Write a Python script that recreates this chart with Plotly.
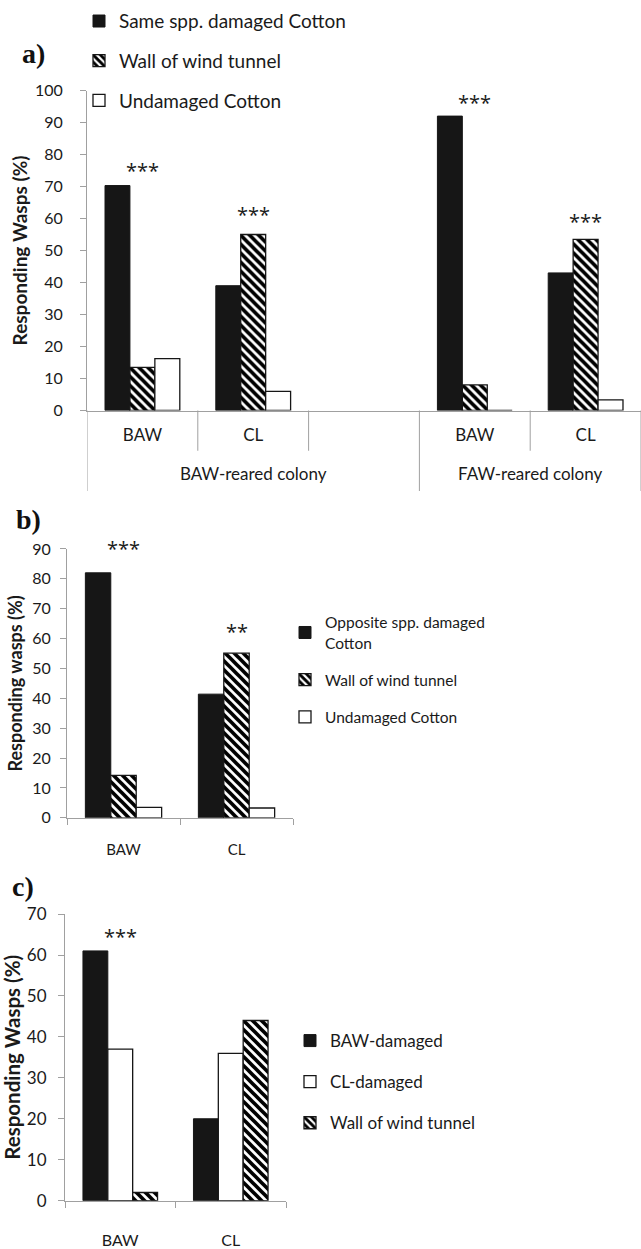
import math
import plotly.graph_objects as go

W, H = 641, 1249

# ---------------- data ----------------
# panel a
a_categories = ["BAW", "CL", "", "BAW", "CL"]
a_groups = ["BAW-reared colony", "FAW-reared colony"]
a_group_members = [[0, 1, 2], [3, 4]]
a_same = [70.3, 39.0, None, 92.0, 43.0]
a_wall = [13.5, 55.0, None, 8.0, 53.5]
a_undamaged = [16.2, 6.0, None, 0.0, 3.3]
a_star_text = ["***", "***", "***", "***"]
a_star_idx = [0, 1, 3, 4]
a_star_y = [75.0, 61.2, 96.4, 59.0]

# panel b
b_categories = ["BAW", "CL"]
b_opposite = [82.0, 41.4]
b_wall = [14.2, 55.1]
b_undamaged = [3.5, 3.3]
b_star_text = ["***", "**"]
b_star_idx = [0, 1]
b_star_y = [90.0, 62.3]

# panel c
c_categories = ["BAW", "CL"]
c_baw = [61.0, 20.0]
c_cl = [37.0, 36.0]
c_wall = [2.0, 44.0]
c_star_text = ["***"]
c_star_idx = [0]
c_star_y = [64.6]

# ---------------- styles ----------------
FONT = "Lato"
TXT = "#1a1a1a"
AX = "#a0a0a0"
BLACK = "#161616"


def px_x(p):
    return p / W


def px_y(p):
    return 1 - p / H


solid = dict(color=BLACK, line=dict(color=BLACK, width=1))
hatch = dict(color="white",
             pattern=dict(shape="\\", size=9 / math.sqrt(2), solidity=0.58,
                          fgcolor="#000000", bgcolor="white", fgopacity=1),
             line=dict(color=BLACK, width=1.3))
empty = dict(color="white", line=dict(color=BLACK, width=1.3))

fig = go.Figure()


def add_bar(name, x, y, marker, xa, ya, legend, grp):
    fig.add_trace(go.Bar(name=name, x=x, y=y, marker=marker, xaxis=xa, yaxis=ya,
                         legend=legend, legendgroup=grp, showlegend=True))


a_pos = list(range(len(a_categories)))
add_bar("Same spp. damaged Cotton", a_pos, a_same, solid, "x", "y", "legend", "a1")
add_bar("Wall of wind tunnel", a_pos, a_wall, hatch, "x", "y", "legend", "a2")
add_bar("Undamaged Cotton", a_pos, a_undamaged, empty, "x", "y", "legend", "a3")

add_bar("Opposite spp. damaged<br>Cotton", b_categories, b_opposite, solid, "x2", "y2", "legend2", "b1")
add_bar("Wall of wind tunnel", b_categories, b_wall, hatch, "x2", "y2", "legend2", "b2")
add_bar("Undamaged Cotton", b_categories, b_undamaged, empty, "x2", "y2", "legend2", "b3")

add_bar("BAW-damaged", c_categories, c_baw, solid, "x3", "y3", "legend3", "c1")
add_bar("CL-damaged", c_categories, c_cl, empty, "x3", "y3", "legend3", "c2")
add_bar("Wall of wind tunnel", c_categories, c_wall, hatch, "x3", "y3", "legend3", "c3")

common_x = dict(showline=True, linecolor=AX, linewidth=1, showgrid=False, zeroline=False,
                fixedrange=True)
common_y = dict(showline=True, linecolor=AX, linewidth=1, showgrid=False, zeroline=False,
                ticks="outside", ticklen=6, tickcolor=AX, fixedrange=True)

fig.update_layout(
    width=W, height=H, margin=dict(l=0, r=0, t=0, b=0),
    paper_bgcolor="white", plot_bgcolor="white",
    font=dict(family=FONT, color=TXT, size=16),
    barmode="group", bargap=0.325, bargroupgap=0,
    xaxis=dict(common_x, domain=[px_x(87), 1.0], range=[-0.5, len(a_categories) - 0.5],
               tickmode="array", tickvals=a_pos, ticktext=a_categories, ticks="",
               ticklabelstandoff=9, tickfont=dict(size=17), anchor="y"),
    yaxis=dict(common_y, domain=[px_y(407), px_y(81)], range=[0, 100], dtick=10,
               tickfont=dict(size=16), ticklabelstandoff=14, anchor="x",
               title=dict(text="<b>Responding Wasps (%)</b>", font=dict(size=19), standoff=2)),
    xaxis2=dict(common_x, domain=[px_x(67), px_x(293)], type="category",
                ticks="outside", tickson="boundaries", ticklen=6, tickcolor=AX,
                tickfont=dict(size=15), ticklabelstandoff=18, anchor="y2"),
    yaxis2=dict(common_y, domain=[px_y(822), px_y(548)], range=[0, 90], dtick=10,
                tickfont=dict(size=16), ticklabelstandoff=6, anchor="x2",
                title=dict(text="<b>Responding wasps (%)</b>", font=dict(size=18), standoff=4)),
    xaxis3=dict(common_x, domain=[px_x(65), px_x(286)], type="category",
                ticks="outside", tickson="boundaries", ticklen=6, tickcolor=AX,
                tickfont=dict(size=16), ticklabelstandoff=25, anchor="y3"),
    yaxis3=dict(common_y, domain=[px_y(1212), px_y(920)], range=[0, 70], dtick=10,
                tickfont=dict(size=17), ticklabelstandoff=8, anchor="x3",
                title=dict(text="<b>Responding Wasps (%)</b>", font=dict(size=20.5), standoff=2)),
    legend=dict(x=px_x(79), xanchor="left", y=px_y(-9), yanchor="top",
                font=dict(size=19), tracegroupgap=12, bgcolor="rgba(0,0,0,0)"),
    legend2=dict(x=px_x(285), xanchor="left", y=px_y(606), yanchor="top",
                 font=dict(size=15.5), tracegroupgap=14, bgcolor="rgba(0,0,0,0)"),
    legend3=dict(x=px_x(290), xanchor="left", y=px_y(1031), yanchor="top",
                 font=dict(size=17), tracegroupgap=16, bgcolor="rgba(0,0,0,0)"),
)

annotations = []
shapes = []

# star annotations
for texts, idxs, ys, xa, ya, cats in [
    (a_star_text, a_star_idx, a_star_y, "x", "y", None),
    (b_star_text, b_star_idx, b_star_y, "x2", "y2", b_categories),
    (c_star_text, c_star_idx, c_star_y, "x3", "y3", c_categories),
]:
    for t, i, yv in zip(texts, idxs, ys):
        annotations.append(dict(text=t, x=(i if cats is None else cats[i]), y=yv,
                                xref=xa, yref=ya, showarrow=False,
                                font=dict(family="Open Sans", size=20, color=TXT),
                                yanchor="middle"))

# group labels and separators for panel a
a_base = px_y(407)
for g, members in zip(a_groups, a_group_members):
    annotations.append(dict(text=g, x=(members[0] + members[-1]) / 2, y=px_y(471),
                            xref="x", yref="paper", showarrow=False,
                            font=dict(size=17, color=TXT), yanchor="middle"))
boundaries_long = [a_group_members[0][0] - 0.5] + [m[-1] + 0.5 for m in a_group_members]
boundaries_short = [i + 0.5 for m in a_group_members for i in m[:-1]]
for b in boundaries_long:
    shapes.append(dict(type="line", xref="x", yref="paper", x0=b, x1=b,
                       y0=a_base, y1=px_y(489), line=dict(color=AX, width=1)))
for b in boundaries_short:
    shapes.append(dict(type="line", xref="x", yref="paper", x0=b, x1=b,
                       y0=a_base, y1=px_y(448), line=dict(color=AX, width=1)))

# panel labels
for lab, cx, cy in [("a)", 33, 43), ("b)", 28, 518), ("c)", 23, 892)]:
    annotations.append(dict(text="<b>" + lab + "</b>", x=px_x(cx), y=px_y(cy),
                            xref="paper", yref="paper", showarrow=False,
                            font=dict(family="Liberation Serif", size=28, color="#111"),
                            xanchor="center", yanchor="middle"))

fig.update_layout(annotations=annotations, shapes=shapes)
fig.write_html("out.html", config={"displayModeBar": False},
               post_script="document.body.style.margin='0px';")
